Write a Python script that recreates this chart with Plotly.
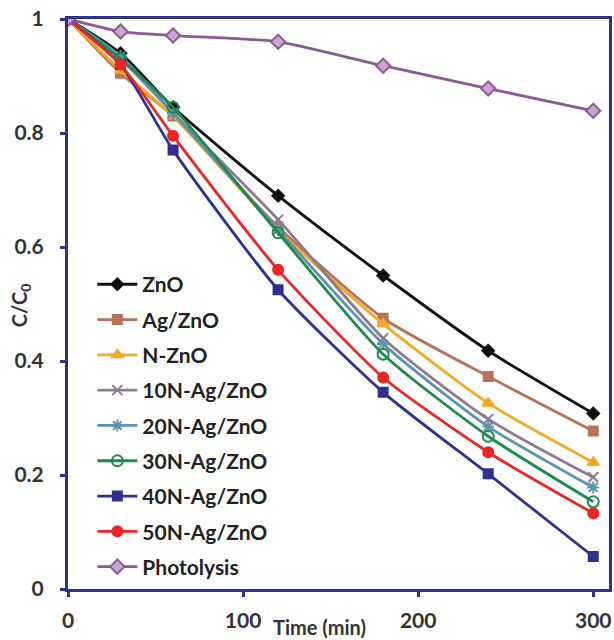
import plotly.graph_objects as go

time_min = [0, 30, 60, 120, 180, 240, 300]
zno = [1.0, 0.94, 0.845, 0.69, 0.55, 0.418, 0.308]
ag_zno = [1.0, 0.905, 0.83, 0.635, 0.475, 0.373, 0.277]
n_zno = [1.0, 0.91, 0.83, 0.63, 0.465, 0.326, 0.222]
n10_ag_zno = [1.0, 0.93, 0.835, 0.648, 0.44, 0.298, 0.196]
n20_ag_zno = [1.0, 0.935, 0.835, 0.63, 0.43, 0.285, 0.178]
n30_ag_zno = [1.0, 0.93, 0.845, 0.625, 0.412, 0.268, 0.153]
n40_ag_zno = [1.0, 0.92, 0.77, 0.525, 0.345, 0.202, 0.057]
n50_ag_zno = [1.0, 0.92, 0.795, 0.56, 0.371, 0.24, 0.133]
photolysis = [1.0, 0.978, 0.971, 0.96, 0.918, 0.878, 0.839]

series = [
    ("ZnO", zno, "#111111", "diamond", "#111111", 9),
    ("Ag/ZnO", ag_zno, "#B5735A", "square", "#B5735A", 9),
    ("N-ZnO", n_zno, "#F7A823", "triangle-up", "#F7A823", 10),
    ("10N-Ag/ZnO", n10_ag_zno, "#8C7A90", "x-thin-open", "#8C7A90", 10),
    ("20N-Ag/ZnO", n20_ag_zno, "#5B93B0", "asterisk-open", "#5B93B0", 10),
    ("30N-Ag/ZnO", n30_ag_zno, "#1E8A4C", "circle-open", "#1E8A4C", 11),
    ("40N-Ag/ZnO", n40_ag_zno, "#2E3192", "square", "#2E3192", 9),
    ("50N-Ag/ZnO", n50_ag_zno, "#EE2424", "circle", "#EE2424", 10),
    ("Photolysis", photolysis, "#8B5A94", "diamond", "#C9A6CF", 11),
]

fig = go.Figure()
for i, (name, vals, color, sym, fill, size) in enumerate(series):
    fig.add_trace(go.Scatter(
        x=time_min, y=vals, name=name, mode="lines+markers",
        line=dict(color=color, width=2.8, shape="spline", smoothing=0.6),
        marker=dict(symbol=sym, size=size, color=fill,
                    line=dict(color=color, width=2)),
        legendgroup=f"g{i}",
    ))

axis_color = "#2E3192"
tick_font = dict(family="Lato", size=21, color="#333333", weight="bold")
fig.update_layout(
    width=614, height=640,
    margin=dict(l=68, r=2, t=19, b=51),
    plot_bgcolor="white", paper_bgcolor="white",
    font=dict(family="Lato", size=16, color="#333333"),
    showlegend=True,
    legend=dict(
        x=0.045, y=0.57, xanchor="left", yanchor="top",
        bgcolor="rgba(0,0,0,0)",
        font=dict(family="Lato", size=21, color="#222222", weight="bold"),
        tracegroupgap=5, itemwidth=40,
    ),
    xaxis=dict(
        range=[0, 309], tickvals=[0, 100, 200, 300],
        showgrid=False, zeroline=False,
        showline=True, linecolor=axis_color, linewidth=3, mirror=True,
        ticks="outside", tickcolor=axis_color, ticklen=5, tickwidth=3,
        tickfont=tick_font, ticklabelstandoff=6,
    ),
    yaxis=dict(
        range=[0, 1], tickvals=[0, 0.2, 0.4, 0.6, 0.8, 1],
        ticktext=["0", "0.2", "0.4", "0.6", "0.8", "1"],
        showgrid=False, zeroline=False,
        showline=True, linecolor=axis_color, linewidth=3, mirror=True,
        ticks="outside", tickcolor=axis_color, ticklen=5, tickwidth=3,
        tickfont=tick_font, ticklabelstandoff=12,
    ),
    annotations=[
        dict(text="<b>Time (min)</b>", xref="paper", yref="paper",
             x=(321 - 68) / 544, y=(589 - 627) / 570, xanchor="center", yanchor="middle",
             showarrow=False,
             font=dict(family="Lato", size=20, color="#333333")),
        dict(text="<b>C/C<sub>0</sub></b>", xref="paper", yref="paper",
             x=-48 / 544, y=(589 - 305) / 570, xanchor="center", yanchor="middle",
             textangle=-90, showarrow=False,
             font=dict(family="Lato", size=20, color="#333333")),
    ],
)

fig.write_html("out.html")
